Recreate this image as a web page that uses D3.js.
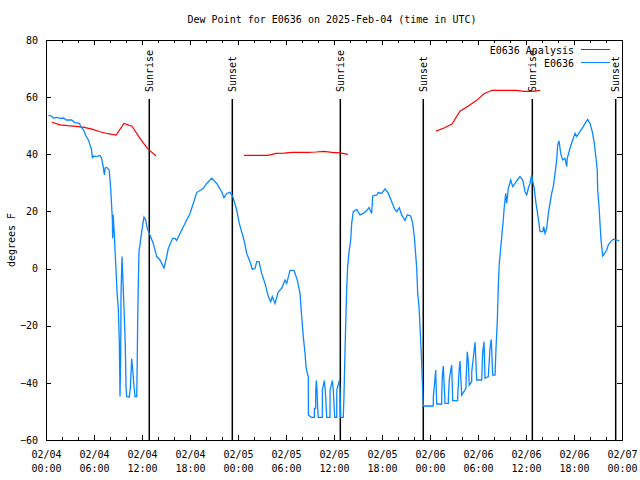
<!DOCTYPE html>
<html>
<head>
<meta charset="utf-8">
<script src="https://cdn.jsdelivr.net/npm/d3@7"></script>
<style>
  body { margin: 0; background: #fff; }
  text { font-family: "DejaVu Sans Mono", monospace; font-size: 10px; fill: #000; }
  line, rect { shape-rendering: crispEdges; }
  .sun line { shape-rendering: auto; }
</style>
</head>
<body>
<svg width="640" height="480"></svg>
<script>
// hours after 2025-02-04 00:00 UTC
var anaHour = [0.75, 1.75, 2.75, 3.75, 4.75, 5.75, 6.75, 7.75, 8.75, 9.75, 10.75, 11.75, 12.75, 13.75, null,
  24.75, 25.75, 26.75, 27.75, 28.75, 29.75, 30.75, 31.75, 32.75, 33.75, 34.75, 35.75, 36.75, 37.75, null,
  48.75, 49.75, 50.75, 51.75, 52.75, 53.75, 54.75, 55.75, 56.75, 57.75, 58.75, 59.75, 60.75, 61.75];
var anaDew = [51.2, 50.3, 50.0, 49.8, 49.4, 48.8, 47.9, 47.2, 46.7, 50.8, 49.8, 45.6, 41.8, 39.5, null,
  39.6, 39.6, 39.6, 39.6, 40.3, 40.4, 40.7, 40.7, 40.7, 40.8, 41.0, 40.7, 40.5, 40.0, null,
  48.1, 49.2, 50.6, 55.1, 56.8, 58.7, 61.2, 62.4, 62.4, 62.4, 62.4, 62.0, 62.0, 62.4];

var obsHour = [0.3, 0.7, 1.0, 1.3, 1.8, 2.2, 2.5, 3.2, 3.6, 4.2, 4.3, 4.7, 5.0, 5.3, 5.5, 5.7, 5.8, 5.9, 6.3, 6.75,
  6.95, 7.15, 7.3, 7.4, 7.6, 7.9, 8.1, 8.3, 8.33, 8.4, 8.55, 8.75, 8.9, 9.04, 9.16, 9.22, 9.25, 9.33, 9.38, 9.5,
  9.58, 9.66, 9.79, 9.91, 10.0, 10.08, 10.41, 10.54, 10.71, 10.84, 11.0, 11.12, 11.34, 11.41, 11.46, 11.54, 11.63, 11.75, 11.88, 12.09,
  12.25, 12.46, 12.66, 12.91, 13.41, 13.84, 14.25, 14.75, 15.09, 15.29, 15.84, 16.13, 16.34, 16.75, 17.59, 18.0, 18.41, 18.84, 19.66, 20.09,
  20.71, 21.34, 21.96, 22.25, 22.59, 23.0, 23.34, 23.84, 24.16, 24.75, 25.09, 25.5, 25.79, 26.13, 26.34, 26.63, 26.96, 27.38, 27.79, 28.09,
  28.29, 28.63, 29.04, 29.46, 29.88, 30.09, 30.5, 31.0, 31.41, 31.75, 31.96, 32.16, 32.38, 32.5, 32.66, 32.79, 32.8, 33.21, 33.54, 33.55,
  33.71, 33.72, 33.79, 33.875, 33.96, 34.04, 34.54, 34.55, 34.79, 34.91, 35.09, 35.5, 35.51, 35.79, 35.91, 36.09, 36.34, 36.35, 36.66, 36.75,
  36.84, 37.16, 37.25, 37.38, 37.5, 37.59, 37.71, 37.91, 38.09, 38.21, 38.41, 38.84, 39.25, 39.66, 40.09, 40.38, 40.71, 40.84, 41.34, 41.54,
  41.96, 42.38, 42.79, 43.21, 43.63, 43.84, 44.16, 44.46, 44.88, 45.16, 45.59, 45.84, 46.04, 46.34, 46.46, 46.63, 46.75, 46.88, 47.0, 47.09,
  47.16, 48.41, 48.42, 48.63, 48.71, 48.84, 49.46, 49.47, 49.54, 49.66, 49.88, 50.29, 50.3, 50.41, 50.59, 50.71, 50.84, 51.46, 51.47, 51.63,
  51.75, 51.96, 52.5, 52.51, 52.66, 52.79, 52.91, 53.21, 53.22, 53.63, 53.84, 54.46, 54.59, 54.75, 54.88, 55.29, 55.5, 55.66, 55.84, 56.13,
  56.25, 56.41, 56.54, 56.66, 56.84, 57.0, 57.16, 57.29, 57.46, 57.59, 57.79, 58.09, 58.34, 58.63, 58.91, 59.25, 59.59, 59.88, 60.09, 60.29,
  60.5, 60.71, 60.84, 61.0, 61.25, 61.41, 61.59, 61.75, 62.09, 62.21, 62.38, 62.59, 62.79, 63.0, 63.21, 63.41, 63.63, 63.84, 63.96, 64.13,
  64.34, 64.59, 64.88, 65.09, 65.16, 65.5, 65.91, 66.13, 66.34, 66.75, 67.16, 67.38, 67.71, 68.0, 68.29, 68.54, 68.75, 68.91, 68.96, 69.13,
  69.25, 69.38, 69.59, 69.88, 70.09, 70.29, 70.5, 70.91, 71.34, 71.66];
var obsDew = [53.6, 53.4, 52.6, 52.9, 52.6, 52.7, 52.0, 52.0, 51.1, 50.8, 49.9, 48.5, 46.4, 45.0, 43.3, 41.5, 38.6, 39.4, 39.2, 39.6,
  38.6, 35.7, 32.8, 35.2, 35.4, 34.5, 27.5, 17.0, 10.6, 18.8, 11.2, -0.5, -9.3, -13.9, -25.0, -36.7, -44.8, -32.6, -8.7, 4.2,
  -1.6, -7.5, -16.8, -26.8, -41.3, -44.8, -45.0, -41.9, -31.6, -35.5, -41.3, -44.8, -44.8, -31.6, -18.0, -5.2, 6.5, 8.3, 11.2, 15.3,
  18.0, 17.0, 14.1, 12.3, 8.8, 4.2, 3.0, 0.2, 4.2, 7.1, 10.6, 10.6, 9.8, 12.3, 17.0, 19.3, 22.8, 26.6, 28.1, 29.8,
  31.6, 29.8, 26.9, 24.8, 26.3, 26.7, 25.2, 20.5, 15.8, 10.0, 5.3, 2.4, -0.3, 0.1, 2.4, 2.4, -1.7, -5.2, -9.8, -11.6,
  -9.8, -12.2, -8.1, -6.9, -4.0, -5.2, -0.6, -0.6, -4.0, -8.7, -16.8, -23.8, -29.7, -34.3, -36.7, -37.8, -51.3, -52.1, -52.1, -48.9,
  -48.9, -42.5, -39.2, -42.5, -48.9, -52.1, -52.1, -42.5, -39.2, -42.5, -52.1, -52.1, -42.5, -39.2, -42.5, -52.1, -52.1, -42.5, -39.2, -42.5,
  -52.1, -52.1, -44.3, -28.5, -15.7, -6.9, 0.8, 6.5, 10.0, 15.8, 19.9, 20.7, 18.8, 19.3, 20.3, 21.4, 19.3, 25.4, 25.8, 26.6,
  26.3, 27.9, 26.3, 23.4, 20.5, 19.9, 21.3, 18.8, 16.8, 18.8, 18.4, 15.8, 11.2, 0.1, -8.7, -13.3, -20.3, -27.9, -36.1, -43.7,
  -48.1, -48.1, -44.8, -38.4, -35.5, -47.4, -47.4, -44.3, -37.8, -34.1, -47.2, -47.2, -45.4, -39.0, -35.5, -33.8, -46.2, -46.2, -44.3, -36.1,
  -32.4, -44.3, -41.9, -39.0, -29.1, -32.6, -40.8, -39.6, -36.1, -25.8, -39.0, -39.0, -29.1, -25.6, -38.4, -37.8, -27.9, -24.8, -37.3, -37.3,
  -27.9, -18.6, -6.3, 1.8, 7.1, 12.3, 17.0, 21.7, 26.3, 22.8, 28.1, 31.0, 28.7, 29.8, 31.0, 32.2, 31.0, 26.9, 25.8, 28.1,
  29.8, 32.8, 30.4, 28.7, 22.8, 19.9, 16.4, 12.9, 12.9, 14.7, 12.3, 14.1, 19.3, 22.8, 26.3, 28.7, 33.3, 38.0, 43.3, 44.7,
  40.3, 38.0, 38.6, 35.7, 38.6, 42.1, 45.6, 47.3, 46.2, 47.9, 49.7, 50.8, 52.2, 50.8, 47.9, 43.8, 38.6, 34.5, 27.5, 21.7,
  15.8, 10.0, 4.4, 5.6, 6.5, 8.3, 9.1, 10.3, 10.0, 9.7];

var sunHour = [12.91, 23.29, 36.79, 47.16, 60.79, 71.21];
var sunLabel = ["Sunrise", "Sunset", "Sunrise", "Sunset", "Sunrise", "Sunset"];
var yTicks = [-60, -40, -20, 0, 20, 40, 60, 80];

var t0 = Date.UTC(2025, 1, 4);
function hourToDate(h) { return new Date(t0 + h * 3600e3); }

var svg = d3.select("svg");
var plotL = 46, plotR = 622, plotT = 40, plotB = 440;

var x = d3.scaleUtc().domain([hourToDate(0), hourToDate(72)]).range([plotL, plotR]);
var y = d3.scaleLinear().domain([-60, 80]).range([plotB, plotT]);

var majorX = d3.range(0, 73, 6).map(hourToDate);
var minorX = d3.range(0, 73, 2).map(hourToDate);

// minor ticks bottom/top
svg.append("g").attr("transform", "translate(0," + plotB + ")")
  .call(d3.axisBottom(x).tickValues(minorX).tickSize(-3).tickFormat(""))
  .call(function(g) { g.select(".domain").remove(); });
svg.append("g").attr("transform", "translate(0," + plotT + ")")
  .call(d3.axisTop(x).tickValues(minorX).tickSize(-3).tickFormat(""))
  .call(function(g) { g.select(".domain").remove(); });

var fmtD = d3.utcFormat("%m/%d"), fmtT = d3.utcFormat("%H:%M");
var xAxis = svg.append("g").attr("transform", "translate(0," + plotB + ")")
  .call(d3.axisBottom(x).tickValues(majorX).tickSize(-5).tickPadding(11).tickFormat(""));
xAxis.selectAll(".tick text").each(function(d) {
  var t = d3.select(this);
  t.append("tspan").attr("x", 0).text(fmtD(d));
  t.append("tspan").attr("x", 0).attr("dy", "1.4em").text(fmtT(d));
});
svg.append("g").attr("transform", "translate(0," + plotT + ")")
  .call(d3.axisTop(x).tickValues(majorX).tickSize(-5).tickFormat(""));

svg.append("g").attr("transform", "translate(" + plotL + ",0)")
  .call(d3.axisLeft(y).tickValues(yTicks).tickSize(-5).tickPadding(8));
svg.append("g").attr("transform", "translate(" + plotR + ",0)")
  .call(d3.axisRight(y).tickValues(yTicks).tickSize(-5).tickFormat(""));

svg.selectAll(".domain").attr("stroke", "#000").style("shape-rendering", "crispEdges");
svg.selectAll(".tick line").attr("stroke", "#000");
svg.selectAll(".tick text").style("font-family", "DejaVu Sans Mono, monospace").style("font-size", "10px");

svg.append("rect").attr("x", plotL).attr("y", plotT).attr("width", plotR - plotL).attr("height", plotB - plotT)
  .attr("fill", "none").attr("stroke", "#000").attr("stroke-width", 1);

// sunrise / sunset
var sun = svg.selectAll(".sun").data(sunHour).enter().append("g").attr("class", "sun");
sun.append("line")
  .attr("x1", function(d) { return x(hourToDate(d)); })
  .attr("x2", function(d) { return x(hourToDate(d)); })
  .attr("y1", 99).attr("y2", plotB)
  .attr("stroke", "#000").attr("stroke-width", 1.5);
sun.append("text")
  .attr("transform", function(d) { return "translate(" + x(hourToDate(d)) + ",92) rotate(-90)"; })
  .attr("dy", "0.35em")
  .attr("text-anchor", "start")
  .text(function(d, i) { return sunLabel[i]; });

var anaLine = d3.line()
  .defined(function(d, i) { return anaDew[i] != null; })
  .x(function(d, i) { return x(hourToDate(anaHour[i])); })
  .y(function(d, i) { return y(anaDew[i]); });
svg.append("path").attr("d", anaLine(anaDew))
  .attr("fill", "none").attr("stroke", "#ff0000").attr("stroke-width", 1.2);

var obsLine = d3.line()
  .x(function(d, i) { return x(hourToDate(obsHour[i])); })
  .y(function(d, i) { return y(obsDew[i]); });
svg.append("path").attr("d", obsLine(obsDew))
  .attr("fill", "none").attr("stroke", "#0a88ff").attr("stroke-width", 1.3);

// legend
svg.append("text").attr("x", 574).attr("y", 50).attr("dy", "0.35em").attr("text-anchor", "end").text("E0636 Analysis");
svg.append("line").attr("x1", 581).attr("x2", 610).attr("y1", 49.5).attr("y2", 49.5).attr("stroke", "#ff0000").attr("stroke-width", 1.2);
svg.append("text").attr("x", 574).attr("y", 63).attr("dy", "0.35em").attr("text-anchor", "end").text("E0636");
svg.append("line").attr("x1", 581).attr("x2", 610).attr("y1", 62.5).attr("y2", 62.5).attr("stroke", "#0a88ff").attr("stroke-width", 1.3);

svg.append("text").attr("x", 332).attr("y", 19).attr("dy", "0.35em").attr("text-anchor", "middle")
  .text("Dew Point for E0636 on 2025-Feb-04 (time in UTC)");
svg.append("text").attr("transform", "translate(11,240) rotate(-90)").attr("dy", "0.35em").attr("text-anchor", "middle")
  .text("degrees F");
</script>
</body>
</html>
